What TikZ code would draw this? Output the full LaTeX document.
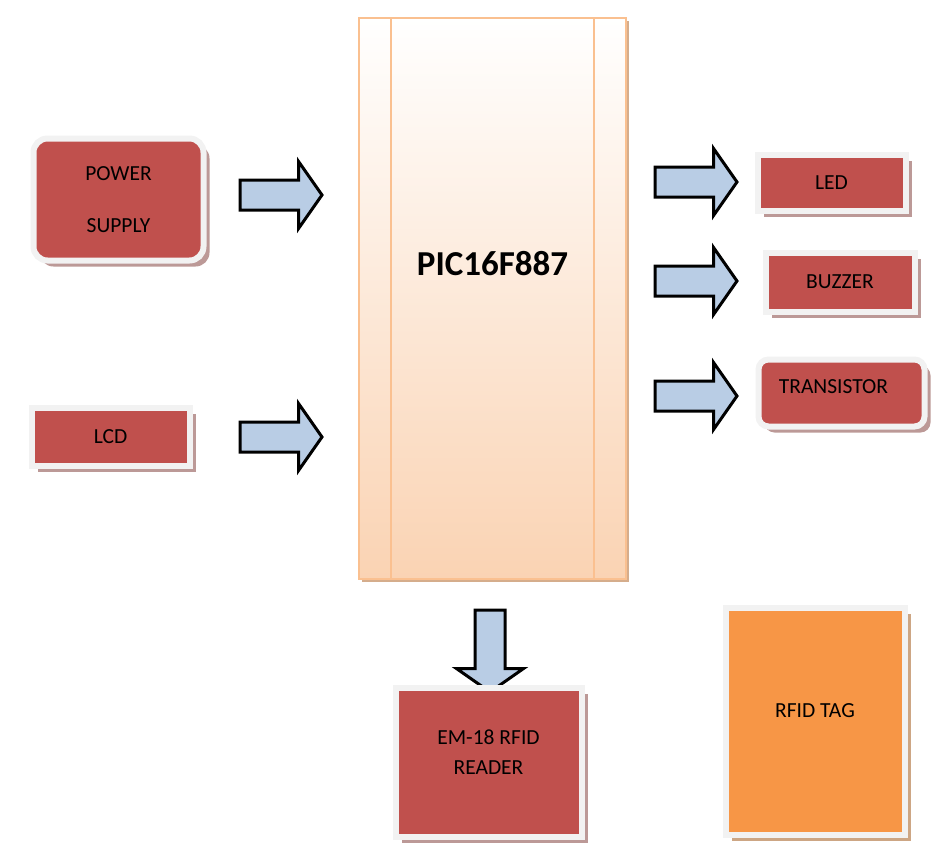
\documentclass[tikz,border=0pt]{standalone}
\usepackage{fontspec}
\setmainfont{Carlito}
\usetikzlibrary{shapes.arrows,shadows,calc}

\definecolor{bloquerojo}{HTML}{C0504D}
\definecolor{sombrarojo}{HTML}{BC9997}
\definecolor{borde}{HTML}{F2F2F2}
\definecolor{etiquetanaranja}{HTML}{F79646}
\definecolor{sombranaranja}{HTML}{CDA684}
\definecolor{flechaazul}{HTML}{B9CDE5}
\definecolor{picborde}{HTML}{FAC090}
\definecolor{picabajo}{HTML}{FAD3B3}
\definecolor{picsombra}{HTML}{D5AD8C}

\begin{document}
\begin{tikzpicture}[x=1pt, y=-1pt,
    rotulo/.style={font=\fontsize{21.5}{25}\selectfont, align=center},
    caja/.style={rotulo, draw=borde, line width=6pt, fill=bloquerojo, inner sep=0pt,
      general shadow={fill=sombrarojo, shadow xshift=6pt, shadow yshift=-6pt}},
    flecha/.style={single arrow, draw=black, line width=3pt, fill=flechaazul, line join=miter,
      minimum height=82pt, inner sep=13.5pt, single arrow head extend=18.5pt,
      single arrow tip angle=110, anchor=tail}]
    \useasboundingbox (0,0) rectangle (945,854);

    % Microcontrolador con degradado
    \node[draw=picborde, line width=2pt, top color=white, bottom color=picabajo,
      minimum width=267pt, minimum height=561pt,
      general shadow={fill=picsombra, shadow xshift=3pt, shadow yshift=-3pt}]
      (pic) at (492.5,298.5) {};
    \draw[picborde, line width=2pt] ($(pic.north west)+(33,0)$) -- ($(pic.south west)+(33,0)$);
    \draw[picborde, line width=2pt] ($(pic.north east)+(-33,0)$) -- ($(pic.south east)+(-33,0)$);
    \node[font=\fontsize{35}{40}\selectfont\bfseries] (pictexto) at ([yshift=35pt]pic.center) {PIC16F887};

    % Entradas a la izquierda
    \node[caja, rounded corners=14pt, minimum width=170pt, minimum height=122pt]
      (fuente) at (118.5,199.5) {POWER\\[27pt]SUPPLY};
    \node[caja, minimum width=158pt, minimum height=58pt] (lcd) at (110.5,436.5) {LCD};
    \node[flecha] (f1) at (238.5,195) {};
    \node[flecha] (f2) at (238.5,437) {};

    % Salidas a la derecha
    \node[caja, minimum width=148pt, minimum height=56pt] (led) at (831.5,182.5) {LED};
    \node[caja, minimum width=149pt, minimum height=59pt] (buzzer) at (840,282) {BUZZER};
    \node[caja, rounded corners=10pt, minimum width=166pt, minimum height=67pt,
      label={[rotulo, xshift=-8pt, yshift=6pt]center:TRANSISTOR}]
      (transistor) at (841.5,393) {};
    \node[flecha] (f3) at (653.5,182) {};
    \node[flecha] (f4) at (653.5,281) {};
    \node[flecha] (f5) at (653.5,396) {};

    % Lector RFID abajo
    \node[flecha, shape border rotate=270] (f6) at (490,608.5) {};
    \node[caja, minimum width=186pt, minimum height=149pt,
      label={[rotulo, yshift=10pt]center:EM-18 RFID\\[5pt]READER}]
      (lector) at (488.5,762) {};

    % Etiqueta RFID
    \node[caja, fill=etiquetanaranja, minimum width=179pt, minimum height=227pt,
      general shadow={fill=sombranaranja, shadow xshift=6pt, shadow yshift=-6pt},
      label={[rotulo, yshift=10pt]center:RFID TAG}]
      (tag) at (815,721) {};
  \end{tikzpicture}
\end{document}
